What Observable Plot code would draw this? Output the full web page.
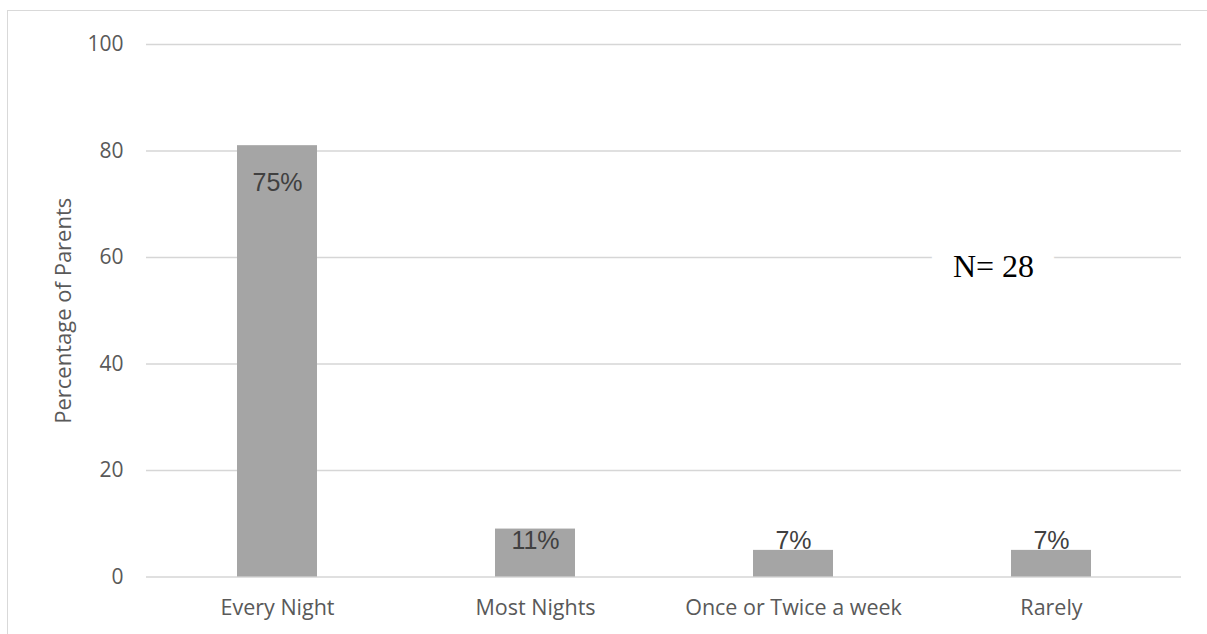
<!DOCTYPE html>
<html>
<head>
<meta charset="utf-8">
<script src="https://cdn.jsdelivr.net/npm/d3@7"></script>
<script src="https://cdn.jsdelivr.net/npm/@observablehq/plot@0.6"></script>
<style>
  html, body { margin: 0; padding: 0; background: #fff; }
  #wrap { position: relative; width: 1207px; height: 634px; overflow: hidden; }
  #frame { position: absolute; left: 7px; top: 10px; right: -2px; bottom: -2px;
           border-top: 1px solid #d9d9d9; border-left: 1px solid #d9d9d9; pointer-events: none; }
  #chart { position: absolute; left: 0; top: 0; }
</style>
</head>
<body>
<div id="wrap"><div id="frame"></div><div id="chart"></div></div>
<script>
// Bedtime routine frequency
const categories = ["Every Night", "Most Nights", "Once or Twice a week", "Rarely"];
const values = [81, 9, 5, 5];
const labels = ["75%", "11%", "7%", "7%"];
const yTicks = [0, 20, 40, 60, 80, 100];
const sampleSize = [28];

const rows = categories.map((c, i) => ({category: c, value: values[i], label: labels[i]}));
const tall = rows.filter(d => d.value > 20);
const short = rows.filter(d => d.value <= 20);

const axisFont = "'Open Sans', sans-serif";

const chart = Plot.plot({
  width: 1207,
  height: 634,
  marginLeft: 146,
  marginRight: 26,
  marginTop: 44,
  marginBottom: 57.5,
  style: {background: "transparent", fontFamily: axisFont, fontSize: "21px", color: "#595959"},
  x: {domain: categories, paddingInner: 0.69, paddingOuter: 0.345, label: null},
  y: {domain: [0, 100], label: null},
  marks: [
    Plot.gridY(yTicks, {stroke: "#d6d6d6", strokeOpacity: 1, strokeWidth: 1.5}),
    Plot.barY(rows, {x: "category", y: "value", fill: "#a5a5a5"}),
    Plot.axisY(yTicks, {tickSize: 0, tickPadding: 23, fill: "#595959", fontSize: 21, label: null}),
    Plot.axisX({tickSize: 0, tickPadding: 23, fill: "#595959", fontSize: 21.5, label: null}),
    Plot.text(["Percentage of Parents"], {frameAnchor: "left", textAnchor: "middle", dx: -83, rotate: -90,
      fill: "#595959", fontSize: 22}),
    // value labels
    Plot.text(tall, {x: "category", y: "value", text: "label", dy: 37,
      fill: "#404040", fontSize: 25, fontFamily: "'Liberation Sans', sans-serif"}),
    Plot.text(short, {x: "category", text: "label", frameAnchor: "bottom", dy: -28,
      fill: "#404040", fontSize: 25, fontFamily: "'Liberation Sans', sans-serif"}),
    // sample size annotation
    Plot.text(sampleSize, {text: d => `N= ${d}`, frameAnchor: "top-right", dx: -188, dy: 222,
      textAnchor: "middle", lineAnchor: "middle", fill: "#000", fontSize: 32,
      fontFamily: "'Liberation Serif', 'Times New Roman', serif",
      stroke: "white", strokeWidth: 44})
  ]
});
document.getElementById("chart").append(chart);
</script>
</body>
</html>
